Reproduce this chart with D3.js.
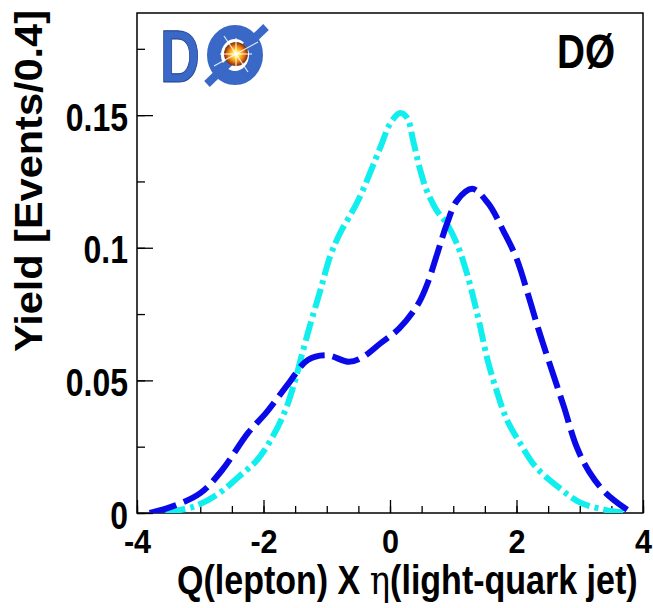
<!DOCTYPE html>
<html>
<head>
<meta charset="utf-8">
<script src="https://cdn.jsdelivr.net/npm/d3@7"></script>
<style>
    body { margin: 0; background: #fff; }
    text { font-family: "Liberation Sans", Arial, sans-serif; font-weight: bold; fill: #000; }
</style>
</head>
<body>
<div id="chart"></div>
<script>

// cyan dash-dot curve (x = Q(lepton) x eta, y = yield)
const tbX = [-3.55, -3.1, -2.7, -2.4, -2.1, -1.85, -1.65, -1.5, -1.4, -1.25, -1.1, -0.95, -0.8, -0.5, -0.15,
    0.0, 0.16, 0.27, 0.37, 0.47, 0.58, 0.74, 0.9, 1.06, 1.22, 1.4, 1.55, 1.7, 1.85, 2.05, 2.3, 2.65, 3.0, 3.4, 3.75];
const tbY = [0.0003, 0.0024, 0.0075, 0.0135, 0.020, 0.029, 0.039, 0.050, 0.059, 0.072, 0.084, 0.0965, 0.105, 0.118, 0.138,
    0.1467, 0.1508, 0.149, 0.140, 0.130, 0.1216, 0.114, 0.109, 0.1014, 0.090, 0.073, 0.057, 0.045, 0.035, 0.0266, 0.0175, 0.0100, 0.0040, 0.0012, 0.0];

// blue dashed curve
const tqbX = [-3.8, -3.45, -3.0, -2.65, -2.25, -1.95, -1.6, -1.3, -1.0, -0.65, -0.45, -0.15, 0.15, 0.45, 0.6,
    0.75, 0.9, 1.06, 1.3, 1.55, 1.8, 2.0, 2.2, 2.35, 2.5, 2.75, 2.95, 3.15, 3.4, 3.75];
const tqbY = [0.0, 0.0024, 0.0075, 0.0163, 0.030, 0.038, 0.049, 0.0577, 0.0595, 0.057, 0.0585, 0.064, 0.0697, 0.079, 0.087,
    0.098, 0.109, 0.1178, 0.1222, 0.1168, 0.106, 0.096, 0.081, 0.069, 0.058, 0.040, 0.025, 0.0155, 0.0078, 0.0012];

// axes
const xDomain = [-4, 4];
const yDomain = [0, 0.1885];
const xTickValues = [-4, -2, 0, 2, 4];
const xTickLabels = ["-4", "-2", "0", "2", "4"];
const yTickValues = [0, 0.05, 0.1, 0.15];
const yTickLabels = ["0", "0.05", "0.1", "0.15"];
const xTitle = "Q(lepton) X ";
const xTitleEta = "\u03b7";
const xTitleTail = "(light-quark jet)";
const yTitle = "Yield [Events/0.4]";
const expLabel = "D\u00d8";

class YieldVis {
    constructor(parentElement) {
        this.parentElement = parentElement;
        this.initVis();
    }

    initVis() {
        let vis = this;

        vis.margin = {top: 13, right: 10, bottom: 95, left: 137};
        vis.width = 653 - vis.margin.left - vis.margin.right;
        vis.height = 608 - vis.margin.top - vis.margin.bottom;

        vis.svg = d3.select("#" + vis.parentElement).append("svg")
            .attr("width", 653)
            .attr("height", 608);

        vis.g = vis.svg.append("g")
            .attr("transform", `translate(${vis.margin.left}, ${vis.margin.top})`);

        vis.x = d3.scaleLinear().domain(xDomain).range([0, vis.width]);
        vis.y = d3.scaleLinear().domain(yDomain).range([vis.height, 0]);

        vis.drawAxes();
        vis.drawCurves();
        vis.drawLabels();
        vis.drawLogo();
    }

    drawAxes() {
        let vis = this;

        // minor ticks
        vis.g.append("g")
            .attr("transform", `translate(0, ${vis.height})`)
            .call(d3.axisBottom(vis.x).tickValues(d3.range(-4, 4.01, 0.5)).tickSizeInner(-7).tickSizeOuter(0).tickFormat(""))
            .call(g => g.select(".domain").remove())
            .selectAll("line").attr("stroke-width", 1.3);

        vis.g.append("g")
            .call(d3.axisLeft(vis.y).tickValues(d3.range(0, 0.18, 0.025)).tickSizeInner(-8).tickSizeOuter(0).tickFormat(""))
            .call(g => g.select(".domain").remove())
            .selectAll("line").attr("stroke-width", 1.3);

        // major ticks + labels
        let xAxis = vis.g.append("g")
            .attr("transform", `translate(0, ${vis.height})`)
            .call(d3.axisBottom(vis.x).tickValues(xTickValues).tickSizeInner(-13).tickSizeOuter(0)
                .tickPadding(0).tickFormat((d, i) => xTickLabels[i]));
        xAxis.select(".domain").remove();
        xAxis.selectAll("line").attr("stroke-width", 1.3);
        xAxis.selectAll("text")
            .attr("y", 0)
            .attr("dy", null)
            .attr("transform", "translate(0, 40) scale(0.9, 1)")
            .style("font-size", "34px")
            .style("font-family", "'Liberation Sans', Arial, sans-serif")
            .style("font-weight", "bold");

        let yAxis = vis.g.append("g")
            .call(d3.axisLeft(vis.y).tickValues(yTickValues).tickSizeInner(-16).tickSizeOuter(0)
                .tickFormat((d, i) => yTickLabels[i]));
        yAxis.select(".domain").remove();
        yAxis.selectAll("line").attr("stroke-width", 1.3);
        yAxis.selectAll("text")
            .attr("x", 0)
            .attr("dy", null)
            .attr("y", 15)
            .attr("transform", "translate(-9, 0) scale(0.82, 1)")
            .style("font-size", "39px")
            .style("font-family", "'Liberation Sans', Arial, sans-serif")
            .style("font-weight", "bold");

        // frame
        vis.g.append("rect")
            .attr("width", vis.width)
            .attr("height", vis.height)
            .attr("fill", "none")
            .attr("stroke", "#000")
            .attr("stroke-width", 1.5);
    }

    drawCurves() {
        let vis = this;

        vis.g.append("clipPath").attr("id", "plot-clip")
            .append("rect").attr("width", vis.width).attr("height", vis.height);

        let line = d3.line()
            .x(d => vis.x(d[0]))
            .y(d => vis.y(d[1]))
            .curve(d3.curveCatmullRom.alpha(0.5));

        let curves = [
            {pts: d3.zip(tbX, tbY), color: "#11eeee", dash: "20,5,4,5"},
            {pts: d3.zip(tqbX, tqbY), color: "#0a0ae8", dash: "28,8"}
        ];

        vis.g.append("g")
            .attr("clip-path", "url(#plot-clip)")
            .selectAll("path")
            .data(curves)
            .enter().append("path")
            .attr("d", d => line(d.pts))
            .attr("fill", "none")
            .attr("stroke", d => d.color)
            .attr("stroke-width", 6)
            .attr("stroke-dasharray", d => d.dash);
    }

    drawLabels() {
        let vis = this;

        // y title
        vis.svg.append("text")
            .attr("transform", "translate(42, 181) rotate(-90)")
            .attr("text-anchor", "middle")
            .attr("textLength", 342)
            .attr("lengthAdjust", "spacingAndGlyphs")
            .style("font-size", "38px")
            .text(yTitle);

        // x title (condensed like the rest of the figure)
        let xt = vis.svg.append("text")
            .attr("x", 0)
            .attr("y", 0)
            .attr("transform", "translate(177, 594) scale(0.83, 1)")
            .style("font-size", "41px");
        xt.append("tspan").text(xTitle);
        xt.append("tspan")
            .style("font-family", "'DejaVu Serif', 'Liberation Serif', serif")
            .style("font-weight", "normal")
            .text(xTitleEta);
        xt.append("tspan").text(xTitleTail);

        // experiment label
        vis.svg.append("text")
            .attr("x", 557)
            .attr("y", 68)
            .attr("textLength", 58)
            .attr("lengthAdjust", "spacingAndGlyphs")
            .style("font-size", "48px")
            .text(expLabel);
    }

    drawLogo() {
        let vis = this;

        let defs = vis.svg.append("defs");
        let grad = defs.append("radialGradient").attr("id", "burst");
        grad.append("stop").attr("offset", "0%").attr("stop-color", "#ffffff");
        grad.append("stop").attr("offset", "30%").attr("stop-color", "#ffe040");
        grad.append("stop").attr("offset", "65%").attr("stop-color", "#f08010");
        grad.append("stop").attr("offset", "100%").attr("stop-color", "#7a2a08");

        let logo = vis.svg.append("g").attr("class", "logo");
        let blue = "#3a68c6";

        logo.append("text")
            .attr("x", 160)
            .attr("y", 82)
            .attr("textLength", 40)
            .attr("lengthAdjust", "spacingAndGlyphs")
            .style("font-size", "74px")
            .style("fill", blue)
            .style("stroke", "#1f3f8f")
            .style("stroke-width", 1)
            .text("D");

        logo.append("ellipse")
            .attr("cx", 235).attr("cy", 55)
            .attr("rx", 21).attr("ry", 23)
            .attr("fill", "none")
            .attr("stroke", blue)
            .attr("stroke-width", 14);

        logo.append("line")
            .attr("x1", 207).attr("y1", 84)
            .attr("x2", 266).attr("y2", 27)
            .attr("stroke", blue)
            .attr("stroke-width", 8);

        logo.append("circle")
            .attr("cx", 236).attr("cy", 54)
            .attr("r", 12)
            .attr("fill", "url(#burst)");

        let rays = [[214, 66, 258, 42], [224, 36, 248, 72], [220, 54, 252, 54], [236, 38, 236, 70]];
        logo.selectAll(".ray")
            .data(rays)
            .enter().append("line")
            .attr("class", "ray")
            .attr("x1", d => d[0]).attr("y1", d => d[1])
            .attr("x2", d => d[2]).attr("y2", d => d[3])
            .attr("stroke", "#ffffff")
            .attr("stroke-width", 1.2)
            .attr("stroke-opacity", 0.85);
    }
}

new YieldVis("chart");
</script>
</body>
</html>
